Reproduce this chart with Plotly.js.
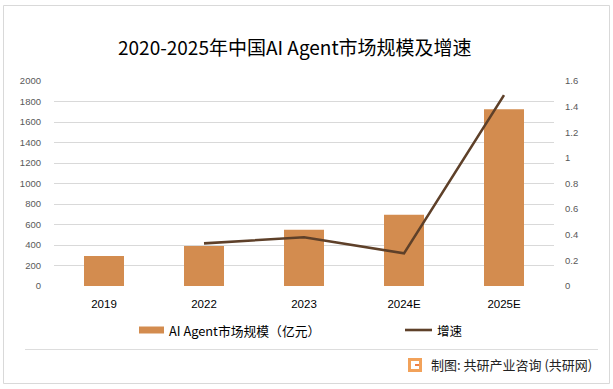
<!DOCTYPE html>
<html><head><meta charset="utf-8">
<script src="https://cdn.plot.ly/plotly-3.0.1.min.js"></script>
<style>html,body{margin:0;padding:0;background:#fff}#chart{width:613px;height:389px}</style>
</head><body><div id="chart"></div>
<script>
const categories = ['2019', '2022', '2023', '2024E', '2025E'];
const marketSize = [293, 390, 548, 695, 1725];
const growthCats = ['2022', '2023', '2024E', '2025E'];
const growthRate = [0.333, 0.38, 0.255, 1.49];
const leftTicks = [0, 200, 400, 600, 800, 1000, 1200, 1400, 1600, 1800, 2000];
const rightTicks = [0, 0.2, 0.4, 0.6, 0.8, 1, 1.2, 1.4, 1.6];
const seriesNames = ['AI Agent市场规模（亿元）', '增速'];
const titleText = '2020-2025年中国AI Agent市场规模及增速';
const sourceText = '制图: 共研产业咨询 (共研网)';

const barColor = '#D38C4F';
const lineColor = '#5E4029';
const cjk = '"Noto Sans CJK SC", "Noto Sans", sans-serif';
const num = '"Liberation Sans", Arial, sans-serif';

const W = 613, H = 389;
const ML = 54, MR = 59, MT = 81, MB = 103;
const PW = W - ML - MR, PH = H - MT - MB;
// convert page pixels to paper coordinates (relative to plot area)
const px = x => (x - ML) / PW;
const py = y => (H - MB - y) / PH;

const traces = [
  {type: 'bar', x: categories, y: marketSize, name: seriesNames[0],
   marker: {color: barColor}, width: 0.4, hoverinfo: 'x+y'},
  {type: 'scatter', mode: 'lines', x: growthCats, y: growthRate, name: seriesNames[1],
   yaxis: 'y2', line: {color: lineColor, width: 2.6}}
];

const shapes = [
  // outer border
  {type: 'rect', xref: 'paper', yref: 'paper', x0: px(3.5), x1: px(609.5), y0: py(383.5), y1: py(5.5), line: {color: '#d9d9d9', width: 1}},
  // footer separator line
  {type: 'line', xref: 'paper', yref: 'paper', x0: px(25), x1: px(598), y0: py(349.5), y1: py(349.5), line: {color: '#dddddd', width: 1}},
  // legend swatches
  {type: 'rect', xref: 'paper', yref: 'paper', x0: px(139), x1: px(164), y0: py(333.5), y1: py(326.5), fillcolor: barColor, line: {width: 0}},
  {type: 'line', xref: 'paper', yref: 'paper', x0: px(405), x1: px(432), y0: py(330), y1: py(330), line: {color: lineColor, width: 2.6}},
  // logo
  {type: 'rect', xref: 'paper', yref: 'paper', x0: px(408), x1: px(422), y0: py(372), y1: py(358), fillcolor: '#F2A25A', line: {width: 0}},
  {type: 'rect', xref: 'paper', yref: 'paper', x0: px(411), x1: px(419), y0: py(369), y1: py(361), fillcolor: '#FFFFFF', line: {width: 0}},
  {type: 'rect', xref: 'paper', yref: 'paper', x0: px(415), x1: px(419), y0: py(366), y1: py(364), fillcolor: '#F07F45', line: {width: 0}}
];

const annotations = [
  {text: titleText, xref: 'paper', yref: 'paper', x: px(295), y: py(46.5), xanchor: 'center', yanchor: 'middle', showarrow: false,
   font: {family: cjk, size: 19, color: '#000'}},
  {text: seriesNames[0], xref: 'paper', yref: 'paper', x: px(167), y: py(330), xanchor: 'left', yanchor: 'middle', showarrow: false,
   font: {family: cjk, size: 12.8, color: '#000'}},
  {text: seriesNames[1], xref: 'paper', yref: 'paper', x: px(435), y: py(330), xanchor: 'left', yanchor: 'middle', showarrow: false,
   font: {family: cjk, size: 12.5, color: '#000'}},
  {text: sourceText, xref: 'paper', yref: 'paper', x: px(429), y: py(364), xanchor: 'left', yanchor: 'middle', showarrow: false,
   font: {family: cjk, size: 13, color: '#222'}}
];

const layout = {
  width: W, height: H,
  margin: {l: ML, r: MR, t: MT, b: MB, pad: 0},
  paper_bgcolor: '#fff', plot_bgcolor: '#fff',
  showlegend: false,
  xaxis: {type: 'category', range: [-0.5, 4.5], showgrid: false, zeroline: false, showline: false,
          ticks: '', tickfont: {family: num, size: 11.5, color: '#000'}, ticklabelstandoff: 9},
  yaxis: {range: [0, 2000], tickvals: leftTicks, ticktext: leftTicks.map(String), showgrid: true, gridcolor: '#d9d9d9', gridwidth: 1,
          zeroline: false, showline: false, ticks: '', tickfont: {family: num, size: 9.5, color: '#595959'}, ticklabelstandoff: 12},
  yaxis2: {range: [0, 1.6], overlaying: 'y', side: 'right', tickvals: rightTicks, ticktext: rightTicks.map(String), showgrid: false,
           zeroline: false, showline: false, ticks: '', tickfont: {family: num, size: 9.5, color: '#595959'}, ticklabelstandoff: 10},
  shapes: shapes,
  annotations: annotations
};

Plotly.newPlot('chart', traces, layout, {displayModeBar: false, staticPlot: true});
</script>
</body></html>
